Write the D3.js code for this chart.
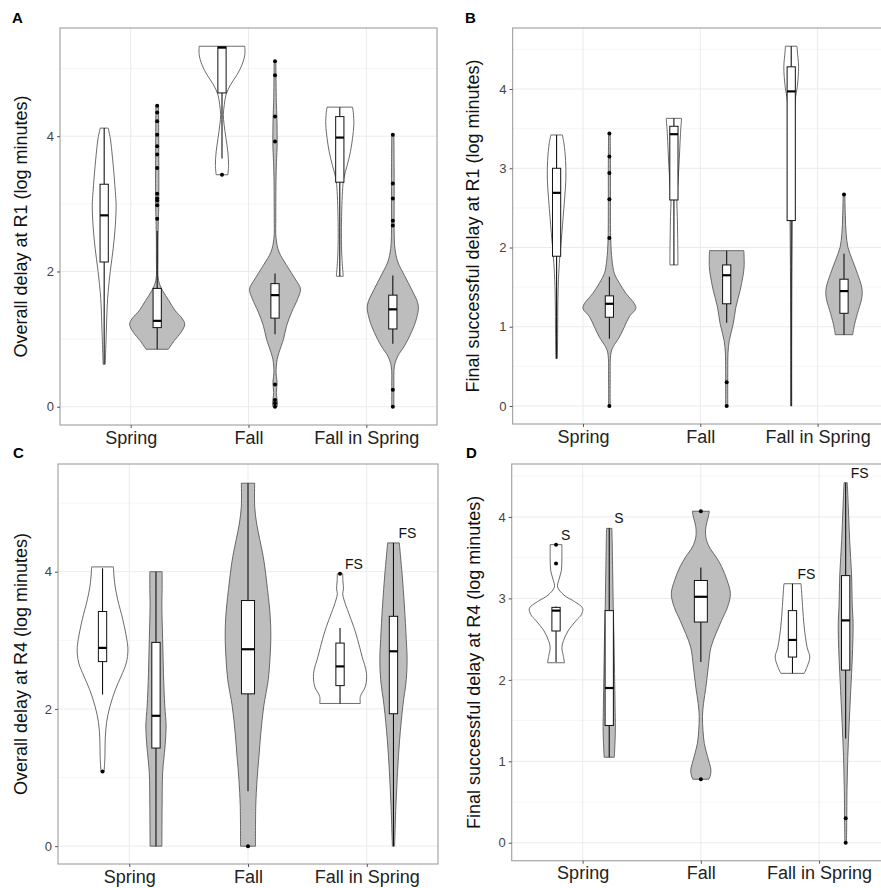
<!DOCTYPE html>
<html>
<head>
<meta charset="utf-8">
<title>Delay violins</title>
<script src="https://cdnjs.cloudflare.com/ajax/libs/d3/7.8.5/d3.min.js"></script>
<style>
body { margin: 0; background: #fff; }
svg { display: block; font-family: Arial, "Liberation Sans", sans-serif; }
.grid-major { stroke: #ebebeb; stroke-width: 1; }
.grid-minor { stroke: #f4f4f4; stroke-width: 0.8; }
.frame { fill: none; stroke: #a6a6a6; stroke-width: 1.2; }
.violin { stroke: #5a5a5a; stroke-width: 0.9; }
.box { fill: #fff; stroke: #111; stroke-width: 1; }
.whisker { stroke: #111; stroke-width: 1.1; }
.median { stroke: #000; stroke-width: 2.2; }
.axis path { display: none; }
.axis line { stroke: #555; }
</style>
</head>
<body>
<script>

var cats = ["Spring", "Fall", "Fall in Spring"];

// each violin: category, group (w = white, g = grey), outline as [value, relative half width],
// box as [lower whisker, q1, median, q3, upper whisker], outlier values, label
var violinsA = [
  {cat: "Spring", grp: "w",
   shape: [[4.12,0.15],[3.97,0.23],[3.57,0.34],[3.18,0.42],[2.98,0.45],[2.68,0.42],[2.34,0.34],[2.0,0.23],[1.6,0.13],[1.1,0.08],[0.63,0.04]],
   box: [0.63, 2.14, 2.83, 3.29, 4.12], out: [], tag: ""},
  {cat: "Spring", grp: "g",
   shape: [[4.45,0.05],[3.0,0.06],[2.7,0.04],[2.2,0.03],[1.87,0.05],[1.72,0.2],[1.57,0.44],[1.43,0.66],[1.3,0.95],[1.22,1.04],[1.1,0.9],[0.98,0.65],[0.85,0.42]],
   box: [0.85, 1.17, 1.27, 1.75, 2.6], out: [2.78, 2.98, 3.05, 3.08, 3.15, 3.53, 3.73, 3.85, 4.02, 4.22, 4.35, 4.45], tag: ""},
  {cat: "Fall", grp: "w",
   shape: [[5.33,0.86],[5.2,0.86],[5.06,0.76],[4.91,0.57],[4.76,0.32],[4.61,0.15],[4.47,0.09],[4.32,0.05],[4.17,0.08],[3.97,0.15],[3.77,0.22],[3.57,0.25],[3.43,0.22]],
   box: [3.67, 4.64, 5.31, 5.32, 5.32], out: [3.43], tag: ""},
  {cat: "Fall", grp: "g",
   shape: [[5.11,0.03],[4.8,0.04],[4.5,0.05],[4.3,0.07],[4.07,0.08],[3.85,0.08],[3.67,0.06],[3.4,0.04],[2.8,0.03],[2.49,0.04],[2.29,0.15],[2.09,0.44],[1.89,0.76],[1.74,0.96],[1.6,0.86],[1.4,0.63],[1.2,0.44],[1.0,0.32],[0.8,0.15],[0.7,0.08],[0.5,0.04],[0.36,0.08],[0.21,0.05],[0.06,0.09],[0,0.08]],
   box: [1.07, 1.31, 1.65, 1.82, 1.97], out: [0, 0.05, 0.1, 0.33, 3.92, 4.29, 4.9, 5.11], tag: ""},
  {cat: "Fall in Spring", grp: "w",
   shape: [[4.43,0.48],[4.35,0.51],[4.17,0.53],[3.97,0.48],[3.77,0.4],[3.57,0.28],[3.38,0.15],[3.18,0.1],[2.58,0.06],[2.2,0.08],[1.93,0.13]],
   box: [1.93, 3.32, 3.98, 4.29, 4.43], out: [], tag: ""},
  {cat: "Fall in Spring", grp: "g",
   shape: [[4.02,0.04],[3.5,0.05],[3.0,0.05],[2.6,0.05],[2.34,0.08],[2.14,0.19],[1.94,0.44],[1.74,0.7],[1.5,0.96],[1.3,0.89],[1.1,0.7],[0.9,0.44],[0.75,0.19],[0.6,0.06],[0.3,0.04],[0,0.04]],
   box: [0.93, 1.15, 1.44, 1.65, 1.94], out: [0, 0.25, 2.68, 2.75, 3.08, 3.3, 4.02], tag: ""}
];

var violinsB = [
  {cat: "Spring", grp: "w",
   shape: [[3.42,0.22],[3.31,0.28],[3.1,0.34],[2.85,0.35],[2.6,0.3],[2.39,0.25],[2.18,0.2],[1.92,0.13],[1.67,0.08],[1.34,0.05],[0.92,0.04],[0.6,0.03]],
   box: [0.6, 1.89, 2.69, 3.0, 3.42], out: [], tag: ""},
  {cat: "Spring", grp: "g",
   shape: [[3.44,0.03],[3.0,0.04],[2.5,0.04],[2.1,0.05],[1.84,0.1],[1.67,0.19],[1.55,0.38],[1.42,0.63],[1.29,0.95],[1.23,1.0],[1.13,0.76],[1.0,0.57],[0.87,0.38],[0.75,0.15],[0.67,0.06],[0.3,0.03],[0,0.03]],
   box: [0.85, 1.12, 1.29, 1.39, 1.63], out: [0, 2.12, 2.61, 2.94, 3.15, 3.44], tag: ""},
  {cat: "Fall", grp: "w",
   shape: [[3.63,0.29],[3.44,0.25],[3.23,0.22],[3.02,0.19],[2.81,0.15],[2.6,0.11],[2.39,0.13],[2.18,0.14],[1.92,0.15],[1.78,0.15]],
   box: [1.78, 2.6, 3.43, 3.53, 3.63], out: [], tag: ""},
  {cat: "Fall", grp: "g",
   shape: [[1.96,0.65],[1.76,0.66],[1.63,0.61],[1.46,0.51],[1.25,0.35],[1.04,0.25],[0.83,0.1],[0.67,0.05],[0.45,0.04],[0,0.04]],
   box: [1.05, 1.29, 1.65, 1.78, 1.96], out: [0, 0.3], tag: ""},
  {cat: "Fall in Spring", grp: "w",
   shape: [[4.54,0.22],[4.48,0.23],[4.28,0.28],[4.03,0.23],[3.86,0.15],[3.44,0.08],[2.6,0.05],[1.76,0.03],[0.92,0.02],[0,0.02]],
   box: [0, 2.34, 3.97, 4.28, 4.54], out: [], tag: ""},
  {cat: "Fall in Spring", grp: "g",
   shape: [[2.67,0.03],[2.4,0.05],[2.18,0.08],[2.0,0.15],[1.84,0.32],[1.67,0.51],[1.5,0.67],[1.42,0.69],[1.34,0.66],[1.17,0.51],[1.0,0.38],[0.9,0.33]],
   box: [0.9, 1.17, 1.45, 1.6, 1.92], out: [2.67], tag: ""}
];

var violinsC = [
  {cat: "Spring", grp: "w",
   shape: [[4.07,0.41],[3.98,0.42],[3.79,0.47],[3.59,0.57],[3.3,0.76],[3.01,0.91],[2.86,0.95],[2.67,0.89],[2.48,0.7],[2.28,0.48],[2.04,0.28],[1.8,0.15],[1.55,0.1],[1.31,0.09],[1.09,0.06]],
   box: [2.21, 2.69, 2.89, 3.42, 4.05], out: [1.09], tag: ""},
  {cat: "Spring", grp: "g",
   shape: [[4.0,0.23],[3.74,0.23],[3.5,0.22],[3.01,0.25],[2.52,0.28],[2.04,0.33],[1.75,0.38],[1.46,0.34],[1.07,0.25],[0.58,0.23],[0,0.22]],
   box: [0, 1.43, 1.9, 2.97, 4.0], out: [], tag: ""},
  {cat: "Fall", grp: "g",
   shape: [[5.29,0.25],[4.95,0.25],[4.71,0.32],[4.47,0.44],[4.22,0.57],[3.98,0.66],[3.74,0.73],[3.5,0.8],[3.2,0.85],[2.96,0.85],[2.72,0.82],[2.43,0.76],[2.04,0.59],[1.65,0.48],[1.31,0.41],[0.97,0.34],[0.58,0.29],[0,0.28]],
   box: [0.8, 2.22, 2.87, 3.58, 5.29], out: [0], tag: ""},
  {cat: "Fall in Spring", grp: "w",
   shape: [[3.97,0.1],[3.85,0.11],[3.75,0.13],[3.68,0.1],[3.59,0.15],[3.4,0.32],[3.2,0.51],[3.01,0.66],[2.77,0.82],[2.52,0.99],[2.33,0.95],[2.18,0.76],[2.08,0.76]],
   box: [2.08, 2.34, 2.62, 2.96, 3.18], out: [3.97], tag: "FS"},
  {cat: "Fall in Spring", grp: "g",
   shape: [[4.42,0.22],[4.37,0.23],[3.98,0.32],[3.5,0.41],[3.01,0.48],[2.72,0.51],[2.43,0.48],[2.04,0.35],[1.55,0.23],[1.07,0.15],[0.58,0.09],[0.1,0.05],[0,0.04]],
   box: [0, 1.93, 2.84, 3.35, 4.42], out: [], tag: "FS"}
];

var violinsD = [
  {cat: "Spring", grp: "w",
   shape: [[3.66,0.22],[3.5,0.22],[3.34,0.2],[3.22,0.1],[3.14,0.06],[3.04,0.3],[2.96,0.7],[2.88,1.0],[2.8,0.95],[2.73,0.76],[2.6,0.45],[2.48,0.28],[2.4,0.22],[2.3,0.27],[2.21,0.32]],
   box: [2.22, 2.6, 2.85, 2.89, 2.9], out: [3.43, 3.66], tag: "S"},
  {cat: "Spring", grp: "g",
   shape: [[3.86,0.1],[3.71,0.11],[3.3,0.13],[2.9,0.15],[2.49,0.18],[2.08,0.2],[1.67,0.22],[1.42,0.23],[1.26,0.22],[1.05,0.19]],
   box: [1.05, 1.44, 1.9, 2.85, 3.86], out: [], tag: "S"},
  {cat: "Fall", grp: "g",
   shape: [[4.07,0.32],[4.0,0.28],[3.88,0.19],[3.75,0.19],[3.63,0.32],[3.51,0.57],[3.39,0.78],[3.22,0.99],[3.06,1.11],[2.9,1.01],[2.73,0.78],[2.57,0.57],[2.4,0.38],[2.16,0.28],[1.91,0.19],[1.71,0.1],[1.55,0.06],[1.38,0.08],[1.22,0.13],[1.06,0.25],[0.89,0.38],[0.82,0.35],[0.78,0.3]],
   box: [2.22, 2.71, 3.02, 3.22, 3.38], out: [0.78, 4.07], tag: ""},
  {cat: "Fall in Spring", grp: "w",
   shape: [[3.18,0.32],[3.1,0.34],[2.9,0.38],[2.65,0.44],[2.4,0.55],[2.28,0.65],[2.16,0.55],[2.08,0.44]],
   box: [2.08, 2.28, 2.49, 2.85, 3.18], out: [], tag: "FS"},
  {cat: "Fall in Spring", grp: "g",
   shape: [[4.42,0.06],[4.12,0.1],[3.71,0.15],[3.3,0.22],[2.9,0.25],[2.69,0.28],[2.28,0.25],[1.87,0.19],[1.46,0.13],[1.06,0.08],[0.65,0.05],[0.25,0.04],[0,0.03]],
   box: [1.28, 2.12, 2.73, 3.28, 4.42], out: [0, 0.3], tag: "FS"}
];

var ticksWide = [0, 2, 4], minorWide = [1, 3, 5];
var ticksNarrow = [0, 1, 2, 3, 4], minorNarrow = [0.5, 1.5, 2.5, 3.5, 4.5];

var panels = [
  {id: "A", data: violinsA, title: "Overall delay at R1 (log minutes)",
   x0: 60, x1: 437, y0: 28, y1: 425, dom: [-0.27, 5.6], ticks: ticksWide, minor: minorWide, lx: 12, ly: 23, tx: 21},
  {id: "B", data: violinsB, title: "Final successful delay at R1 (log minutes)",
   x0: 512.6, x1: 888, y0: 28, y1: 424, dom: [-0.227, 4.77], ticks: ticksNarrow, minor: minorNarrow, lx: 465, ly: 23, tx: 473},
  {id: "C", data: violinsC, title: "Overall delay at R4 (log minutes)",
   x0: 58, x1: 438, y0: 464, y1: 864, dom: [-0.26, 5.57], ticks: ticksWide, minor: minorWide, lx: 13, ly: 458, tx: 21},
  {id: "D", data: violinsD, title: "Final successful delay at R4 (log minutes)",
   x0: 511.7, x1: 890, y0: 464, y1: 860.7, dom: [-0.22, 4.65], ticks: ticksNarrow, minor: minorNarrow, lx: 466, ly: 458, tx: 474}
];

var W = 881, H = 888;
var svg = d3.select("body").append("svg").attr("width", W).attr("height", H);

panels.forEach(function(p) {
  var g = svg.append("g");
  var x = d3.scalePoint().domain(cats).range([p.x0, p.x1]).padding(0.6);
  var y = d3.scaleLinear().domain(p.dom).range([p.y1, p.y0]);
  var step = x.step();
  var dodge = 0.225 * step;

  g.append("rect").attr("x", p.x0).attr("y", p.y0)
    .attr("width", p.x1 - p.x0).attr("height", p.y1 - p.y0).attr("fill", "#fff");

  g.selectAll(".grid-minor").data(p.minor).enter().append("line")
    .attr("class", "grid-minor")
    .attr("x1", p.x0).attr("x2", p.x1)
    .attr("y1", function(d) { return y(d); }).attr("y2", function(d) { return y(d); });
  g.selectAll(".grid-major.h").data(p.ticks).enter().append("line")
    .attr("class", "grid-major h")
    .attr("x1", p.x0).attr("x2", p.x1)
    .attr("y1", function(d) { return y(d); }).attr("y2", function(d) { return y(d); });
  g.selectAll(".grid-major.v").data(cats).enter().append("line")
    .attr("class", "grid-major v")
    .attr("y1", p.y0).attr("y2", p.y1)
    .attr("x1", function(d) { return x(d); }).attr("x2", function(d) { return x(d); });

  // groups present per category decide dodging
  var counts = d3.rollup(p.data, function(v) { return v.length; }, function(d) { return d.cat; });

  p.data.forEach(function(v) {
    var single = counts.get(v.cat) === 1;
    var cx = x(v.cat) + (single ? 0 : (v.grp === "w" ? -dodge : dodge));
    var bw = single ? 0.11 * step : 0.07 * step;

    var area = d3.area()
      .y(function(d) { return y(d[0]); })
      .x0(function(d) { return cx - d[1] * dodge; })
      .x1(function(d) { return cx + d[1] * dodge; })
      .curve(d3.curveCatmullRom.alpha(0.5));

    g.append("path").datum(v.shape)
      .attr("class", "violin")
      .attr("fill", v.grp === "w" ? "#ffffff" : "#bdbdbd")
      .attr("d", area);

    var b = v.box;
    g.append("line").attr("class", "whisker")
      .attr("x1", cx).attr("x2", cx).attr("y1", y(b[4])).attr("y2", y(b[3]));
    g.append("line").attr("class", "whisker")
      .attr("x1", cx).attr("x2", cx).attr("y1", y(b[1])).attr("y2", y(b[0]));
    g.append("rect").attr("class", "box")
      .attr("x", cx - bw / 2).attr("width", bw)
      .attr("y", y(b[3])).attr("height", Math.max(0.5, y(b[1]) - y(b[3])));
    g.append("line").attr("class", "median")
      .attr("x1", cx - bw / 2).attr("x2", cx + bw / 2)
      .attr("y1", y(b[2])).attr("y2", y(b[2]));

    g.selectAll(null).data(v.out).enter().append("circle")
      .attr("cx", cx).attr("cy", function(d) { return y(d); })
      .attr("r", 2).attr("fill", "#000");

    if (v.tag) {
      var top = d3.max(v.shape, function(d) { return d[0]; });
      g.append("text")
        .attr("x", cx + 5).attr("y", y(top) - 5)
        .attr("font-size", 14).attr("fill", "#111")
        .text(v.tag);
    }
  });

  g.append("rect").attr("class", "frame")
    .attr("x", p.x0).attr("y", p.y0)
    .attr("width", p.x1 - p.x0).attr("height", p.y1 - p.y0);

  var ya = g.append("g").attr("class", "axis")
    .attr("transform", "translate(" + p.x0 + ",0)")
    .call(d3.axisLeft(y).tickValues(p.ticks).tickSize(3).tickPadding(3).tickFormat(d3.format("d")));
  ya.selectAll("text").attr("font-size", 13).attr("fill", "#444").attr("font-family", "Arial, sans-serif");

  var xa = g.append("g").attr("class", "axis")
    .attr("transform", "translate(0," + p.y1 + ")")
    .call(d3.axisBottom(x).tickSize(3).tickPadding(3));
  xa.selectAll("text").attr("font-size", 18).attr("fill", "#222").attr("font-family", "Arial, sans-serif");

  svg.append("text")
    .attr("transform", "translate(" + p.tx + "," + ((p.y0 + p.y1) / 2) + ") rotate(-90)")
    .attr("text-anchor", "middle").attr("dy", "0.35em")
    .attr("font-size", 18).attr("fill", "#111")
    .text(p.title);

  svg.append("text")
    .attr("x", p.lx).attr("y", p.ly)
    .attr("font-size", 15).attr("font-weight", "bold").attr("fill", "#000")
    .text(p.id);
});

</script>
</body>
</html>
